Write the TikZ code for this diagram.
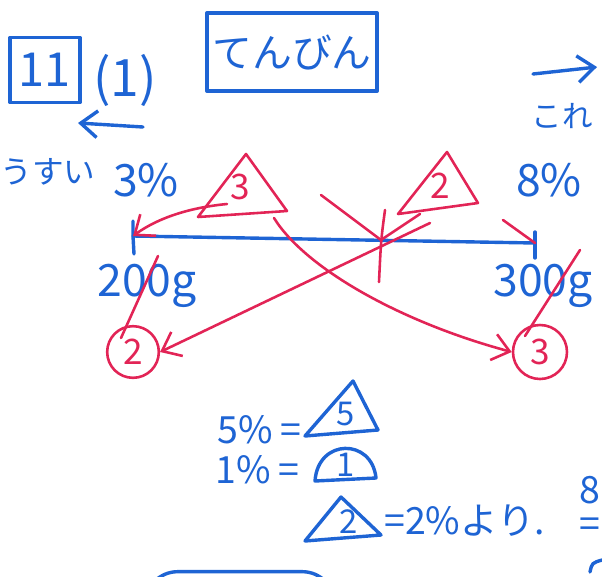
\documentclass[tikz,border=0pt]{standalone}
\usepackage{fontspec}
\setmainfont{Noto Sans CJK JP}
\usepackage{xcolor}
\usepackage{tikz}
\usetikzlibrary{arrows.meta, positioning, calc}
\definecolor{bluepen}{RGB}{30,100,212}
\definecolor{redpen}{RGB}{226,36,86}

\begin{document}
\begin{tikzpicture}[
  x=0.03cm, y=-0.03cm,
  hand/.style={text=bluepen, font=\fontsize{32}{36}\selectfont, inner sep=0pt},
  redhand/.style={text=redpen, font=\fontsize{30}{34}\selectfont, inner sep=0pt},
  bstroke/.style={draw=bluepen, line width=2.9pt, line cap=round, line join=round},
  rstroke/.style={draw=redpen, line width=2.2pt, line cap=round, line join=round},
  barr/.style={bstroke, -{Straight Barb[length=5mm, width=8mm]}},
  rarr/.style={rstroke, -{Straight Barb[length=5mm, width=8mm]}},
  numbox/.style={hand, bstroke, rectangle, minimum width=2.1cm, minimum height=1.95cm},
  titlebox/.style={hand, bstroke, rectangle, minimum width=5.1cm, minimum height=2.35cm},
  ring/.style={redhand, rstroke, circle, minimum size=1.55cm}
]
\useasboundingbox (0,0) rectangle (602,577);
%% heading
\node[numbox, font=\fontsize{40}{44}\selectfont] (q_no) at (45,70) {11};
\node[hand, font=\fontsize{44}{48}\selectfont] (q_sub) at (125,80) {(1)};
\coordinate (back_from) at (143,127);
\coordinate (back_to)   at (78,123);
\draw[barr] (back_from) -- (back_to);
\node[titlebox, font=\fontsize{34}{38}\selectfont] (title) at (292,52) {てんびん};
\coordinate (this_from) at (533,74);
\coordinate (this_to)   at (597,67);
\draw[barr] (this_from) -- (this_to);
\node[hand, font=\fontsize{26}{30}\selectfont] (this) at (562,116) {これ};
%% concentrations
\node[hand, font=\fontsize{27}{30}\selectfont] (thin) at (48,172) {うすい};
\node[hand, font=\fontsize{38}{42}\selectfont] (c_low)  at (146,180) {3\%};
\node[hand, font=\fontsize{38}{42}\selectfont] (c_high) at (549,180) {8\%};
%% beam (L end, fulcrum, R end)
\coordinate (lend) at (133,236);
\coordinate (fulc) at (381,240);
\coordinate (rend) at (535,243);
\draw[bstroke] (lend) -- (rend);
\draw[bstroke] (133,221) -- (lend) -- (134,254);
\draw[bstroke] (535,232) -- (rend) -- (535,258);
\draw[rstroke] (385,210) .. controls (381,240) .. (379,282);
\node[hand, font=\fontsize{38}{42}\selectfont] (w_low)  at (147,286) {200g};
\node[hand, font=\fontsize{38}{42}\selectfont] (w_high) at (543,286) {300g};
%% red ratio triangles
\node[redhand] (tri3) at (240,187) {3};
\draw[rstroke] (246,154) -- (198,217) -- (287,211) -- cycle;
\node[redhand] (tri2) at (440,186) {2};
\draw[rstroke] (447,152) -- (398,214) -- (478,203) -- cycle;
\coordinate (t3_foot) at (227,204);
\coordinate (t3_side) at (321,195);
\coordinate (t3_base) at (274,218);
\coordinate (t2_foot) at (420,214);
\coordinate (t2_side) at (503,220);
\coordinate (t2_base) at (430,223);
%% arrows to the beam
\draw[rarr] (t3_foot) .. controls (185,208) and (155,220) .. (lend);
\draw[rstroke] (t3_side) -- (fulc);
\draw[rstroke] (t2_foot) -- (fulc);
\draw[rstroke] (t2_side) -- (rend);
%% red ratio rings
\node[ring] (r2) at (133,352) {2};
\node[ring, minimum size=1.62cm] (r3) at (540,352) {3};
\coordinate (r2_tail) at (158,256);
\coordinate (r2_in)   at (121,338);
\coordinate (r3_tail) at (580,250);
\coordinate (r3_in)   at (525,336);
\draw[rstroke] (r2_tail) -- (r2_in);
\draw[rstroke] (r3_tail) -- (r3_in);
%% crossing arrows
\draw[rarr] (t3_base) .. controls (305,268) and (400,322) .. (r3.west);
\draw[rarr] (t2_base) -- (r2.east);
%% bottom working
\node[hand, anchor=east] (eq5) at (302,430) {5\%~=};
\node[hand, font=\fontsize{28}{32}\selectfont] (tri5) at (346,414) {5};
\draw[bstroke] (353,381) -- (305,436) -- (378,430) -- cycle;
\node[hand, anchor=east] (eq1) at (300,470) {1\%~=};
\node[hand, font=\fontsize{28}{32}\selectfont] (dome1) at (346,465) {1};
\draw[bstroke] (315,481) .. controls (318,438) and (372,438) .. (376,478) -- cycle;
\node[hand, font=\fontsize{28}{32}\selectfont] (tri2b) at (349,522) {2};
\draw[bstroke] (341,497) -- (305,541) -- (381,535) -- cycle;
\node[hand, anchor=west] (res) at (384,521) {=2\%より.};
%% at the right edge
\node[hand, anchor=east] (edge8)  at (601,490) {8};
\node[hand, anchor=east] (edgeeq) at (601,528) {=};
\draw[bstroke] (602,560) .. controls (592,563) .. (590,572);
\node[bstroke, rectangle, rounded corners=28pt, minimum width=5.7cm,
      minimum height=2cm] (nextbox) at (240,605) {};
\end{tikzpicture}
\end{document}
